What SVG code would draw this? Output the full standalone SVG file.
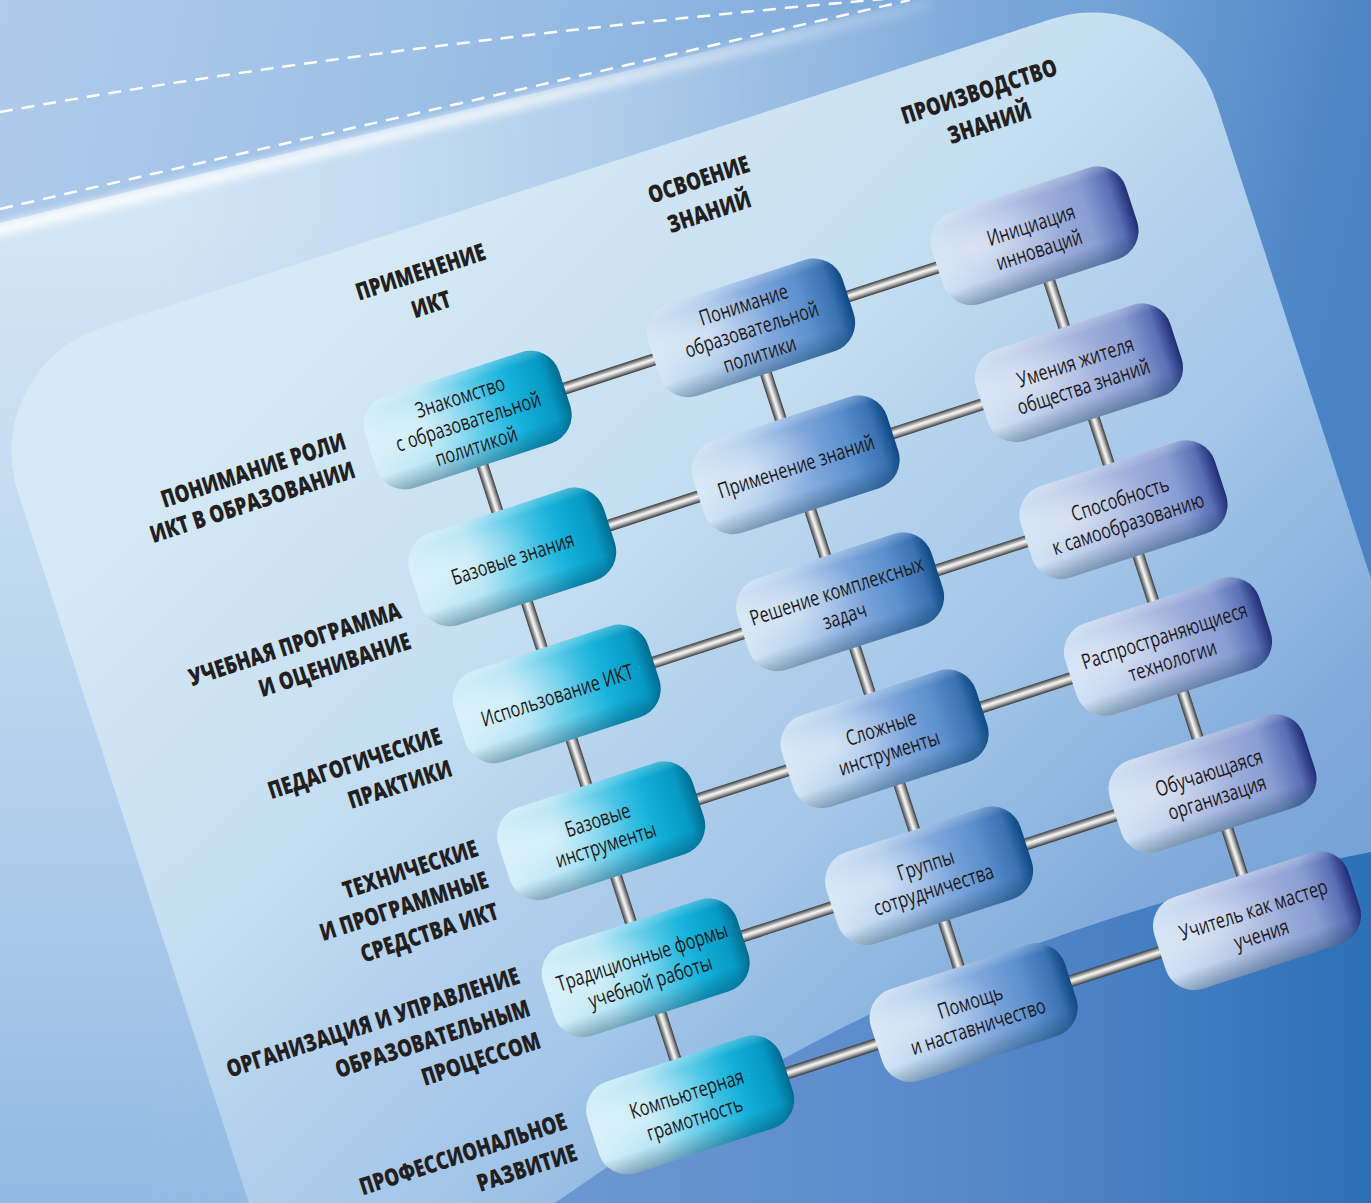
<svg xmlns="http://www.w3.org/2000/svg" xmlns:xlink="http://www.w3.org/1999/xlink" width="1371" height="1203" viewBox="0 0 1371 1203">
<defs>
  <linearGradient id="bgG" gradientUnits="userSpaceOnUse" x1="0" y1="0" x2="1371" y2="300">
    <stop offset="0" stop-color="#afcbeb"/>
    <stop offset="0.3" stop-color="#9dc0e6"/>
    <stop offset="0.77" stop-color="#74a2d7"/>
    <stop offset="0.95" stop-color="#4d86c6"/>
    <stop offset="1" stop-color="#4a83c5"/>
  </linearGradient>
  <linearGradient id="outerG" gradientUnits="userSpaceOnUse" x1="0" y1="223" x2="0" y2="1203">
    <stop offset="0" stop-color="#d3e6f5"/>
    <stop offset="0.5" stop-color="#b8d3ee"/>
    <stop offset="1" stop-color="#93bae3"/>
  </linearGradient>
  <linearGradient id="maskG" gradientUnits="userSpaceOnUse" x1="150" y1="0" x2="1000" y2="0">
    <stop offset="0" stop-color="#fff"/>
    <stop offset="1" stop-color="#000"/>
  </linearGradient>
  <mask id="fadeM" maskUnits="userSpaceOnUse" x="-10" y="-60" width="1400" height="1300">
    <rect x="-10" y="-60" width="1400" height="1300" fill="url(#maskG)"/>
  </mask>
  <linearGradient id="glowG" gradientUnits="userSpaceOnUse" x1="0" y1="0" x2="930" y2="0">
    <stop offset="0" stop-color="#fff" stop-opacity="0.9"/>
    <stop offset="0.55" stop-color="#fff" stop-opacity="0.7"/>
    <stop offset="1" stop-color="#fff" stop-opacity="0.1"/>
  </linearGradient>
  <filter id="blur" x="-10%" y="-50%" width="120%" height="200%">
    <feGaussianBlur stdDeviation="4"/>
  </filter>
  <linearGradient id="panelG" gradientUnits="userSpaceOnUse" x1="0" y1="500" x2="560" y2="1620">
    <stop offset="0" stop-color="#d5eaf5"/>
    <stop offset="0.125" stop-color="#cfe4f3"/>
    <stop offset="0.29" stop-color="#c4def1"/>
    <stop offset="0.52" stop-color="#a9c9ea"/>
    <stop offset="0.57" stop-color="#a3c6e9"/>
    <stop offset="0.8" stop-color="#80aada"/>
    <stop offset="1" stop-color="#6a9ad2"/>
  </linearGradient>
  <linearGradient id="darkG" gradientUnits="userSpaceOnUse" x1="600" y1="0" x2="1371" y2="0">
    <stop offset="0" stop-color="#6a97d2"/>
    <stop offset="0.52" stop-color="#5587c9"/>
    <stop offset="1" stop-color="#2c70b7"/>
  </linearGradient>

  <linearGradient id="gC" x1="0" y1="0" x2="1" y2="0">
    <stop offset="0" stop-color="#d3eef9"/>
    <stop offset="0.3" stop-color="#b5e4f5"/>
    <stop offset="0.55" stop-color="#5ccbe9"/>
    <stop offset="0.75" stop-color="#14b1da"/>
    <stop offset="0.92" stop-color="#0799c4"/>
    <stop offset="1" stop-color="#006a8e"/>
  </linearGradient>
  <linearGradient id="gB" x1="0" y1="0" x2="1" y2="0">
    <stop offset="0" stop-color="#d2e5f5"/>
    <stop offset="0.3" stop-color="#b0ccec"/>
    <stop offset="0.55" stop-color="#84aade"/>
    <stop offset="0.78" stop-color="#5b8fcd"/>
    <stop offset="0.92" stop-color="#3a72b3"/>
    <stop offset="1" stop-color="#0e4883"/>
  </linearGradient>
  <linearGradient id="gL" x1="0" y1="0" x2="1" y2="0">
    <stop offset="0" stop-color="#d0e2f5"/>
    <stop offset="0.3" stop-color="#bac9e8"/>
    <stop offset="0.55" stop-color="#a2b2dd"/>
    <stop offset="0.78" stop-color="#8a9dd3"/>
    <stop offset="0.92" stop-color="#5a6fb6"/>
    <stop offset="1" stop-color="#202c74"/>
  </linearGradient>
  <linearGradient id="shade" x1="0" y1="0" x2="0" y2="1">
    <stop offset="0" stop-color="#fff" stop-opacity="0.25"/>
    <stop offset="0.12" stop-color="#fff" stop-opacity="0"/>
    <stop offset="0.78" stop-color="#00304d" stop-opacity="0"/>
    <stop offset="1" stop-color="#00304d" stop-opacity="0.35"/>
  </linearGradient>
  <radialGradient id="hl" cx="0.25" cy="0.42" r="0.4">
    <stop offset="0" stop-color="#fff" stop-opacity="0.4"/>
    <stop offset="1" stop-color="#fff" stop-opacity="0"/>
  </radialGradient>
  <linearGradient id="rodH" x1="0" y1="0" x2="0" y2="1">
    <stop offset="0" stop-color="#3a3a3a"/>
    <stop offset="0.2" stop-color="#8a8a8a"/>
    <stop offset="0.45" stop-color="#f6f6f6"/>
    <stop offset="0.6" stop-color="#d8d8d8"/>
    <stop offset="0.85" stop-color="#777"/>
    <stop offset="1" stop-color="#333"/>
  </linearGradient>
  <linearGradient id="rodV" x1="0" y1="0" x2="1" y2="0">
    <stop offset="0" stop-color="#3a3a3a"/>
    <stop offset="0.2" stop-color="#8a8a8a"/>
    <stop offset="0.45" stop-color="#f6f6f6"/>
    <stop offset="0.6" stop-color="#d8d8d8"/>
    <stop offset="0.85" stop-color="#777"/>
    <stop offset="1" stop-color="#333"/>
  </linearGradient>
  <rect id="pill" x="-102" y="-48" width="204" height="96" rx="30"/>
</defs>
<style>
  .nt { font-family: "Open Sans", "Noto Sans", "DejaVu Sans", sans-serif; font-weight: 400; font-size: 21.5px; fill: #1e1a1b; text-anchor: middle; }
  .lb { font-family: "Open Sans", "Noto Sans", "DejaVu Sans", sans-serif; font-weight: 800; font-size: 24px; fill: #231f20; }
  .re { text-anchor: end; }
  .ce { text-anchor: middle; }
  .dash { fill: none; stroke: #fff; stroke-width: 2.5; stroke-dasharray: 13 9; }
  .rh { fill: url(#rodH); }
  .rv { fill: url(#rodV); }
</style>

<g id="background">
  <rect x="0" y="0" width="1371" height="1203" fill="url(#bgG)"/>
  <path d="M 0 223 L 950 -8 L 1371 -8 L 1371 1203 L 0 1203 Z" fill="url(#outerG)" mask="url(#fadeM)"/>
  <path d="M -10 232 L 930 4" stroke="url(#glowG)" stroke-width="12" fill="none" filter="url(#blur)"/>
  <path class="dash" d="M 0 112 Q 400 40 930 -5"/>
  <path class="dash" d="M 0 209 L 910 0"/>
  <rect transform="rotate(-18)" x="-135" y="343" width="1260" height="1400" rx="130" fill="url(#panelG)"/>
  <path d="M 555 1203 C 760 1060 980 930 1371 852 L 1371 1203 Z" fill="url(#darkG)"/>
</g>

<g id="diagram" transform="rotate(-18)">
  <g id="connectors">
    <rect class="rh" x="405" y="538" width="118" height="12"/>
    <rect class="rh" x="703" y="538" width="118" height="12"/>
    <rect class="rh" x="405" y="682" width="118" height="12"/>
    <rect class="rh" x="703" y="682" width="118" height="12"/>
    <rect class="rh" x="405" y="826" width="118" height="12"/>
    <rect class="rh" x="703" y="826" width="118" height="12"/>
    <rect class="rh" x="405" y="970" width="118" height="12"/>
    <rect class="rh" x="703" y="970" width="118" height="12"/>
    <rect class="rh" x="405" y="1114" width="118" height="12"/>
    <rect class="rh" x="703" y="1114" width="118" height="12"/>
    <rect class="rh" x="405" y="1258" width="118" height="12"/>
    <rect class="rh" x="703" y="1258" width="118" height="12"/>
    <rect class="rv" x="309" y="584" width="12" height="64"/>
    <rect class="rv" x="309" y="728" width="12" height="64"/>
    <rect class="rv" x="309" y="872" width="12" height="64"/>
    <rect class="rv" x="309" y="1016" width="12" height="64"/>
    <rect class="rv" x="309" y="1160" width="12" height="64"/>
    <rect class="rv" x="607" y="584" width="12" height="64"/>
    <rect class="rv" x="607" y="728" width="12" height="64"/>
    <rect class="rv" x="607" y="872" width="12" height="64"/>
    <rect class="rv" x="607" y="1016" width="12" height="64"/>
    <rect class="rv" x="607" y="1160" width="12" height="64"/>
    <rect class="rv" x="905" y="584" width="12" height="64"/>
    <rect class="rv" x="905" y="728" width="12" height="64"/>
    <rect class="rv" x="905" y="872" width="12" height="64"/>
    <rect class="rv" x="905" y="1016" width="12" height="64"/>
    <rect class="rv" x="905" y="1160" width="12" height="64"/>
  </g>

  <g id="headers">
    <text class="lb ce" transform="translate(316 0) scale(0.78 1)"><tspan x="0" y="397">ПРИМЕНЕНИЕ</tspan><tspan x="0" y="431">ИКТ</tspan></text>
    <text class="lb ce" transform="translate(609 0) scale(0.78 1)"><tspan x="0" y="395">ОСВОЕНИЕ</tspan><tspan x="0" y="429">ЗНАНИЙ</tspan></text>
    <text class="lb ce" transform="translate(903 0) scale(0.78 1)"><tspan x="0" y="398">ПРОИЗВОДСТВО</tspan><tspan x="0" y="431">ЗНАНИЙ</tspan></text>
  </g>

  <g id="row-labels">
    <text class="lb re" transform="translate(192 0) scale(0.78 1)"><tspan x="0" y="534">ПОНИМАНИЕ РОЛИ</tspan><tspan x="0" y="564">ИКТ В ОБРАЗОВАНИИ</tspan></text>
    <text class="lb re" transform="translate(192 0) scale(0.78 1)"><tspan x="0" y="712">УЧЕБНАЯ ПРОГРАММА</tspan><tspan x="0" y="744">И ОЦЕНИВАНИЕ</tspan></text>
    <text class="lb re" transform="translate(192 0) scale(0.78 1)"><tspan x="0" y="844">ПЕДАГОГИЧЕСКИЕ</tspan><tspan x="0" y="878">ПРАКТИКИ</tspan></text>
    <text class="lb re" transform="translate(192 0) scale(0.78 1)"><tspan x="0" y="962">ТЕХНИЧЕСКИЕ</tspan><tspan x="0" y="995">И ПРОГРАММНЫЕ</tspan><tspan x="0" y="1028">СРЕДСТВА ИКТ</tspan></text>
    <text class="lb re" transform="translate(192 0) scale(0.78 1)"><tspan x="0" y="1096">ОРГАНИЗАЦИЯ И УПРАВЛЕНИЕ</tspan><tspan x="0" y="1130">ОБРАЗОВАТЕЛЬНЫМ</tspan><tspan x="0" y="1164">ПРОЦЕССОМ</tspan></text>
    <text class="lb re" transform="translate(192 0) scale(0.78 1)"><tspan x="0" y="1249">ПРОФЕССИОНАЛЬНОЕ</tspan><tspan x="0" y="1282">РАЗВИТИЕ</tspan></text>
  </g>

  <!-- Column 1 -->
  <g id="n-c1r1" transform="translate(315 544)">
    <use xlink:href="#pill" href="#pill" fill="url(#gC)"/><use xlink:href="#pill" href="#pill" fill="url(#shade)"/><use xlink:href="#pill" href="#pill" fill="url(#hl)"/>
    <text class="nt" transform="scale(0.75 1)"><tspan x="0" y="-17">Знакомство</tspan><tspan x="0" y="9">с образовательной</tspan><tspan x="0" y="35">политикой</tspan></text>
  </g>
  <g id="n-c1r2" transform="translate(315 688)">
    <use xlink:href="#pill" href="#pill" fill="url(#gC)"/><use xlink:href="#pill" href="#pill" fill="url(#shade)"/><use xlink:href="#pill" href="#pill" fill="url(#hl)"/>
    <text class="nt" transform="scale(0.75 1)"><tspan x="0" y="9">Базовые знания</tspan></text>
  </g>
  <g id="n-c1r3" transform="translate(315 832)">
    <use xlink:href="#pill" href="#pill" fill="url(#gC)"/><use xlink:href="#pill" href="#pill" fill="url(#shade)"/><use xlink:href="#pill" href="#pill" fill="url(#hl)"/>
    <text class="nt" transform="scale(0.75 1)"><tspan x="0" y="9">Использование ИКТ</tspan></text>
  </g>
  <g id="n-c1r4" transform="translate(315 976)">
    <use xlink:href="#pill" href="#pill" fill="url(#gC)"/><use xlink:href="#pill" href="#pill" fill="url(#shade)"/><use xlink:href="#pill" href="#pill" fill="url(#hl)"/>
    <text class="nt" transform="scale(0.75 1)"><tspan x="0" y="-4">Базовые</tspan><tspan x="0" y="22">инструменты</tspan></text>
  </g>
  <g id="n-c1r5" transform="translate(315 1120)">
    <use xlink:href="#pill" href="#pill" fill="url(#gC)"/><use xlink:href="#pill" href="#pill" fill="url(#shade)"/><use xlink:href="#pill" href="#pill" fill="url(#hl)"/>
    <text class="nt" transform="scale(0.75 1)"><tspan x="0" y="-4">Традиционные формы</tspan><tspan x="0" y="22">учебной работы</tspan></text>
  </g>
  <g id="n-c1r6" transform="translate(315 1264)">
    <use xlink:href="#pill" href="#pill" fill="url(#gC)"/><use xlink:href="#pill" href="#pill" fill="url(#shade)"/><use xlink:href="#pill" href="#pill" fill="url(#hl)"/>
    <text class="nt" transform="scale(0.75 1)"><tspan x="0" y="-4">Компьютерная</tspan><tspan x="0" y="22">грамотность</tspan></text>
  </g>

  <!-- Column 2 -->
  <g id="n-c2r1" transform="translate(613 544)">
    <use xlink:href="#pill" href="#pill" fill="url(#gB)"/><use xlink:href="#pill" href="#pill" fill="url(#shade)"/><use xlink:href="#pill" href="#pill" fill="url(#hl)"/>
    <text class="nt" transform="scale(0.75 1)"><tspan x="0" y="-17">Понимание</tspan><tspan x="0" y="9">образовательной</tspan><tspan x="0" y="35">политики</tspan></text>
  </g>
  <g id="n-c2r2" transform="translate(613 688)">
    <use xlink:href="#pill" href="#pill" fill="url(#gB)"/><use xlink:href="#pill" href="#pill" fill="url(#shade)"/><use xlink:href="#pill" href="#pill" fill="url(#hl)"/>
    <text class="nt" transform="scale(0.75 1)"><tspan x="0" y="9">Применение знаний</tspan></text>
  </g>
  <g id="n-c2r3" transform="translate(613 832)">
    <use xlink:href="#pill" href="#pill" fill="url(#gB)"/><use xlink:href="#pill" href="#pill" fill="url(#shade)"/><use xlink:href="#pill" href="#pill" fill="url(#hl)"/>
    <text class="nt" transform="scale(0.75 1)"><tspan x="0" y="-4">Решение комплексных</tspan><tspan x="0" y="22">задач</tspan></text>
  </g>
  <g id="n-c2r4" transform="translate(613 976)">
    <use xlink:href="#pill" href="#pill" fill="url(#gB)"/><use xlink:href="#pill" href="#pill" fill="url(#shade)"/><use xlink:href="#pill" href="#pill" fill="url(#hl)"/>
    <text class="nt" transform="scale(0.75 1)"><tspan x="0" y="-4">Сложные</tspan><tspan x="0" y="22">инструменты</tspan></text>
  </g>
  <g id="n-c2r5" transform="translate(613 1120)">
    <use xlink:href="#pill" href="#pill" fill="url(#gB)"/><use xlink:href="#pill" href="#pill" fill="url(#shade)"/><use xlink:href="#pill" href="#pill" fill="url(#hl)"/>
    <text class="nt" transform="scale(0.75 1)"><tspan x="0" y="-4">Группы</tspan><tspan x="0" y="22">сотрудничества</tspan></text>
  </g>
  <g id="n-c2r6" transform="translate(613 1264)">
    <use xlink:href="#pill" href="#pill" fill="url(#gB)"/><use xlink:href="#pill" href="#pill" fill="url(#shade)"/><use xlink:href="#pill" href="#pill" fill="url(#hl)"/>
    <text class="nt" transform="scale(0.75 1)"><tspan x="0" y="-4">Помощь</tspan><tspan x="0" y="22">и наставничество</tspan></text>
  </g>

  <!-- Column 3 -->
  <g id="n-c3r1" transform="translate(911 544)">
    <use xlink:href="#pill" href="#pill" fill="url(#gL)"/><use xlink:href="#pill" href="#pill" fill="url(#shade)"/><use xlink:href="#pill" href="#pill" fill="url(#hl)"/>
    <text class="nt" transform="scale(0.75 1)"><tspan x="0" y="-4">Инициация</tspan><tspan x="0" y="22">инноваций</tspan></text>
  </g>
  <g id="n-c3r2" transform="translate(911 688)">
    <use xlink:href="#pill" href="#pill" fill="url(#gL)"/><use xlink:href="#pill" href="#pill" fill="url(#shade)"/><use xlink:href="#pill" href="#pill" fill="url(#hl)"/>
    <text class="nt" transform="scale(0.75 1)"><tspan x="0" y="-4">Умения жителя</tspan><tspan x="0" y="22">общества знаний</tspan></text>
  </g>
  <g id="n-c3r3" transform="translate(911 832)">
    <use xlink:href="#pill" href="#pill" fill="url(#gL)"/><use xlink:href="#pill" href="#pill" fill="url(#shade)"/><use xlink:href="#pill" href="#pill" fill="url(#hl)"/>
    <text class="nt" transform="scale(0.75 1)"><tspan x="0" y="-4">Способность</tspan><tspan x="0" y="22">к самообразованию</tspan></text>
  </g>
  <g id="n-c3r4" transform="translate(911 976)">
    <use xlink:href="#pill" href="#pill" fill="url(#gL)"/><use xlink:href="#pill" href="#pill" fill="url(#shade)"/><use xlink:href="#pill" href="#pill" fill="url(#hl)"/>
    <text class="nt" transform="scale(0.75 1)"><tspan x="0" y="-4">Распространяющиеся</tspan><tspan x="0" y="22">технологии</tspan></text>
  </g>
  <g id="n-c3r5" transform="translate(911 1120)">
    <use xlink:href="#pill" href="#pill" fill="url(#gL)"/><use xlink:href="#pill" href="#pill" fill="url(#shade)"/><use xlink:href="#pill" href="#pill" fill="url(#hl)"/>
    <text class="nt" transform="scale(0.75 1)"><tspan x="0" y="-4">Обучающаяся</tspan><tspan x="0" y="22">организация</tspan></text>
  </g>
  <g id="n-c3r6" transform="translate(911 1264)">
    <use xlink:href="#pill" href="#pill" fill="url(#gL)"/><use xlink:href="#pill" href="#pill" fill="url(#shade)"/><use xlink:href="#pill" href="#pill" fill="url(#hl)"/>
    <text class="nt" transform="scale(0.75 1)"><tspan x="0" y="-4">Учитель как мастер</tspan><tspan x="0" y="22">учения</tspan></text>
  </g>
</g>
</svg>
